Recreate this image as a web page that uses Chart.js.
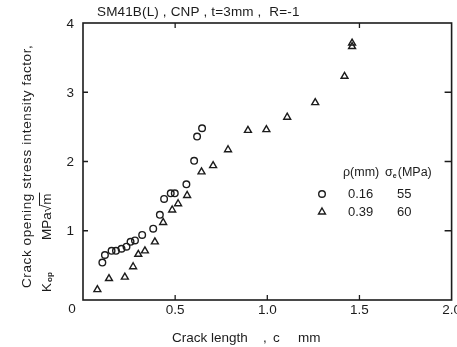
<!DOCTYPE html>
<html><head><meta charset="utf-8">
<script src="https://cdn.jsdelivr.net/npm/chart.js@4"></script>
<style>html,body{margin:0;padding:0;background:#fff}#wrap{width:457px;height:347px;position:relative}</style>
</head><body><div id="wrap"><canvas id="c" width="457" height="347"></canvas></div>
<script>
const titleText = "SM41B(L) , CNP , t=3mm ,  R=-1";
const xAxisTitleParts = ["Crack length", ",", "c", "mm"];
const yAxisTitle = "Crack opening stress intensity factor,";
const xTickValues = [0.5, 1.0, 1.5, 2.0];
const xTickLabels = ["0.5", "1.0", "1.5", "2.0"];
const yTickValues = [1, 2, 3, 4];
const yTickLabels = ["1", "2", "3", "4"];
// series rho = 0.16 mm (circles)
const circleX = [0.105, 0.119, 0.155, 0.179, 0.209, 0.236, 0.258, 0.282, 0.321, 0.381, 0.417, 0.440, 0.476, 0.498, 0.561, 0.603, 0.619, 0.646];
const circleY = [0.54, 0.65, 0.71, 0.71, 0.74, 0.77, 0.84, 0.86, 0.94, 1.03, 1.23, 1.46, 1.54, 1.54, 1.67, 2.01, 2.36, 2.48];
// series rho = 0.39 mm (triangles)
const triX = [0.078, 0.141, 0.227, 0.272, 0.300, 0.336, 0.390, 0.435, 0.484, 0.516, 0.565, 0.643, 0.706, 0.787, 0.895, 0.995, 1.108, 1.260, 1.419, 1.460, 1.460];
const triY = [0.15, 0.31, 0.33, 0.48, 0.66, 0.71, 0.84, 1.12, 1.30, 1.39, 1.51, 1.85, 1.94, 2.17, 2.45, 2.46, 2.64, 2.85, 3.23, 3.66, 3.71];
const legendRho = ["0.16", "0.39"];
const legendSigma = ["55", "60"];

const INK = "#1c1c1c";
const FONT = "'Liberation Sans', Arial, sans-serif";

function pts(xs, ys) { return xs.map((x, i) => ({x: x, y: ys[i]})); }

function drawMarker(ctx, style, x, y) {
  ctx.save();
  ctx.strokeStyle = INK; ctx.lineWidth = 1.4;
  ctx.beginPath();
  if (style === 'circle') {
    ctx.arc(x, y, 3.3, 0, Math.PI * 2);
  } else {
    const r = 4;
    ctx.moveTo(x, y - r);
    ctx.lineTo(x + r * 0.866, y + r * 0.5);
    ctx.lineTo(x - r * 0.866, y + r * 0.5);
    ctx.closePath();
  }
  ctx.stroke();
  ctx.restore();
}

const decor = {
  id: 'decor',
  afterDraw(chart) {
    const ctx = chart.ctx;
    const a = chart.chartArea;
    const xs = chart.scales.x, ys = chart.scales.y;
    ctx.save();
    ctx.strokeStyle = INK; ctx.fillStyle = INK;
    // frame
    ctx.lineWidth = 1.6;
    ctx.strokeRect(a.left, a.top, a.right - a.left, a.bottom - a.top);
    // inward ticks
    ctx.lineWidth = 1.3;
    ctx.beginPath();
    [0.5, 1.0, 1.5].forEach(v => {
      const px = xs.getPixelForValue(v);
      ctx.moveTo(px, a.bottom); ctx.lineTo(px, a.bottom - 5);
    });
    [0.5, 1.5].forEach(v => {
      const px = xs.getPixelForValue(v);
      ctx.moveTo(px, a.top); ctx.lineTo(px, a.top + 5);
    });
    [1, 2, 3].forEach(v => {
      const py = ys.getPixelForValue(v);
      ctx.moveTo(a.left, py); ctx.lineTo(a.left + 5, py);
      ctx.moveTo(a.right, py); ctx.lineTo(a.right - 7, py);
    });
    ctx.stroke();
    // tick labels
    ctx.font = "13.5px " + FONT;
    ctx.textBaseline = 'middle';
    ctx.textAlign = 'center';
    xTickValues.forEach((v, i) => {
      ctx.fillText(xTickLabels[i], xs.getPixelForValue(v), a.bottom + 10);
    });
    ctx.textAlign = 'right';
    yTickValues.forEach((v, i) => {
      ctx.fillText(yTickLabels[i], a.left - 9, ys.getPixelForValue(v) + 1);
    });
    ctx.textAlign = 'center';
    ctx.fillText("0", a.left - 11, a.bottom + 9);
    // title
    ctx.textAlign = 'left';
    ctx.save();
    ctx.letterSpacing = "0.15px";
    ctx.fillText(titleText, 97, 12);
    ctx.restore();
    // x axis title
    ctx.fillText(xAxisTitleParts[0], 172, 338);
    ctx.fillText(xAxisTitleParts[1], 263, 338);
    ctx.fillText(xAxisTitleParts[2], 273, 338);
    ctx.fillText(xAxisTitleParts[3], 298, 338);
    // y axis title (rotated)
    ctx.save();
    ctx.translate(27, 288);
    ctx.rotate(-Math.PI / 2);
    ctx.textAlign = 'left';
    ctx.letterSpacing = "0.6px";
    ctx.fillText(yAxisTitle, 0, 0);
    ctx.restore();
    // second line: K_op  MPa sqrt(m)
    ctx.save();
    ctx.translate(47, 292);
    ctx.rotate(-Math.PI / 2);
    ctx.textAlign = 'left';
    ctx.font = "13.5px " + FONT;
    ctx.fillText("K", 0, 0);
    ctx.font = "bold 8px " + FONT;
    ctx.fillText("op", 10, 3);
    ctx.font = "13.5px " + FONT;
    ctx.fillText("MPa", 52, 0);
    const wM = ctx.measureText("MPa").width;
    ctx.fillText("\u221A", 52 + wM, 0);
    const wS = ctx.measureText("\u221A").width;
    ctx.fillText("m", 52 + wM + wS, 0);
    const wm = ctx.measureText("m").width;
    ctx.lineWidth = 1;
    ctx.beginPath();
    ctx.moveTo(52 + wM + wS - 1, -7.5); ctx.lineTo(52 + wM + wS + wm + 1, -7.5);
    ctx.stroke();
    ctx.restore();
    // legend
    ctx.font = "12.5px " + FONT;
    ctx.textAlign = 'left';
    ctx.fillText("\u03C1(mm)", 343, 173);
    ctx.fillText("\u03C3", 385, 173);
    const ws = ctx.measureText("\u03C3").width;
    ctx.font = "bold 7px " + FONT;
    ctx.fillText("e", 385 + ws, 176);
    ctx.font = "12.5px " + FONT;
    ctx.fillText("(MPa)", 385 + ws + 5, 173);
    ctx.font = "13px " + FONT;
    const rowY = [194, 212];
    ['circle', 'triangle'].forEach((s, i) => {
      drawMarker(ctx, s, 322, rowY[i]);
      ctx.fillText(legendRho[i], 348, rowY[i]);
      ctx.fillText(legendSigma[i], 397, rowY[i]);
    });
    ctx.restore();
  }
};

new Chart(document.getElementById('c'), {
  type: 'scatter',
  data: {
    datasets: [
      { label: '0.16', data: pts(circleX, circleY), pointStyle: 'circle', pointRadius: 3.3,
        borderColor: INK, backgroundColor: 'rgba(0,0,0,0)', pointBorderWidth: 1.4, showLine: false },
      { label: '0.39', data: pts(triX, triY), pointStyle: 'triangle', pointRadius: 4,
        borderColor: INK, backgroundColor: 'rgba(0,0,0,0)', pointBorderWidth: 1.4, showLine: false }
    ]
  },
  options: {
    responsive: false,
    animation: false,
    devicePixelRatio: 1,
    layout: { padding: { left: 83, right: 5, top: 23, bottom: 47 } },
    plugins: { legend: { display: false }, tooltip: { enabled: false }, title: { display: false } },
    scales: {
      x: { type: 'linear', min: 0, max: 2, display: false },
      y: { type: 'linear', min: 0, max: 4, display: false }
    }
  },
  plugins: [decor]
});
</script>
</body></html>
